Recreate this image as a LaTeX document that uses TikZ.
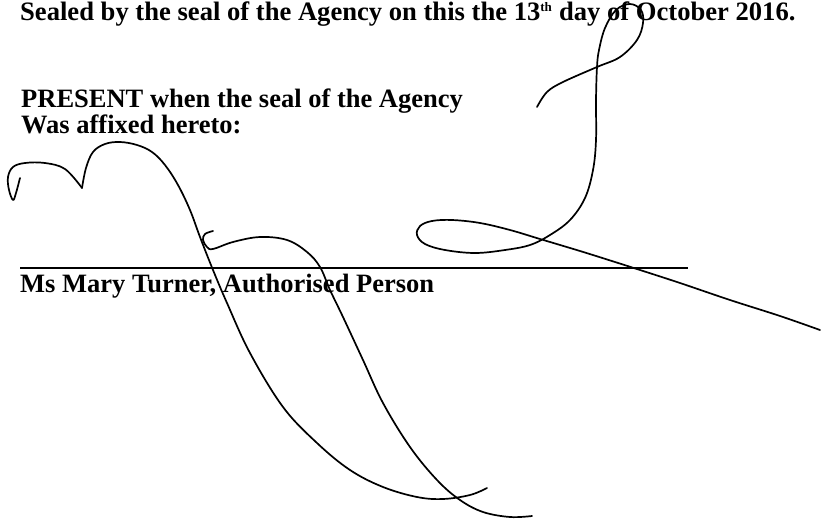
\documentclass[tikz,border=0pt]{standalone}
\usepackage{fontspec}
\setmainfont{Liberation Serif}
\usetikzlibrary{positioning}

\begin{document}
\begin{tikzpicture}[x=1pt, y=-1pt,
  doctext/.style={anchor=base west, inner sep=0pt, font=\fontsize{26.5}{30}\selectfont\bfseries},
  pen/.style={line width=1.7pt, line cap=round, line join=round},
  rule/.style={line width=1.4pt}]
  \useasboundingbox[fill=white] (0,0) rectangle (826,519);

  \node[doctext, font=\fontsize{26.6}{32}\selectfont\bfseries] (sealed) at (20,20.5) {Sealed by the seal of the Agency on this the 13\textsuperscript{\fontsize{13}{13}\selectfont th} day of October 2016.};
  \node[doctext] (present) at (21,107) {PRESENT when the seal of the Agency};
  \node[doctext] (affixed) at (21,133) {Was affixed hereto:};
  \node[doctext] (name) at (20,292) {Ms Mary Turner, Authorised Person};

  \draw[rule] (20,268) -- (688,268);

  % signature
  \draw[pen] plot[smooth, tension=0.6] coordinates {(20,178) (16,193) (13,200) (9,190) (8,177) (13,167) (25,163) (45,163) (65,169) (82,188)};
  \draw[pen] plot[smooth, tension=0.6] coordinates {(82,188) (86,168) (93,152) (105,144) (120,142) (137,145) (152,152) (165,165) (178,185) (190,210) (200,237) (213,270) (227,303) (250,353) (283,407) (317,443) (350,470) (383,487) (417,497) (443,499) (470,495) (487,488)};
  \draw[pen] plot[smooth, tension=0.6] coordinates {(213,231) (205,234) (203,240) (207,247) (213,249) (233,242) (260,237) (287,240) (307,252) (320,267) (330,290) (343,317) (363,360) (383,403) (410,447) (437,480) (460,500) (483,512) (510,517) (532,516)};
  \draw[pen] plot[smooth, tension=0.6] coordinates {(537,107) (547,92) (563,82) (597,67) (620,57) (637,40) (643,23) (641,10) (630,4) (616,10) (605,28) (599,50) (597,67) (596,100) (596,140) (593,170) (585,198) (570,220) (550,235) (530,245) (505,250) (475,253) (445,250) (425,244) (417,235) (420,226) (432,221) (452,220) (480,223) (510,230) (540,239) (580,251) (615,262) (640,270) (680,283) (730,300) (780,316) (820,330)};
\end{tikzpicture}
\end{document}
